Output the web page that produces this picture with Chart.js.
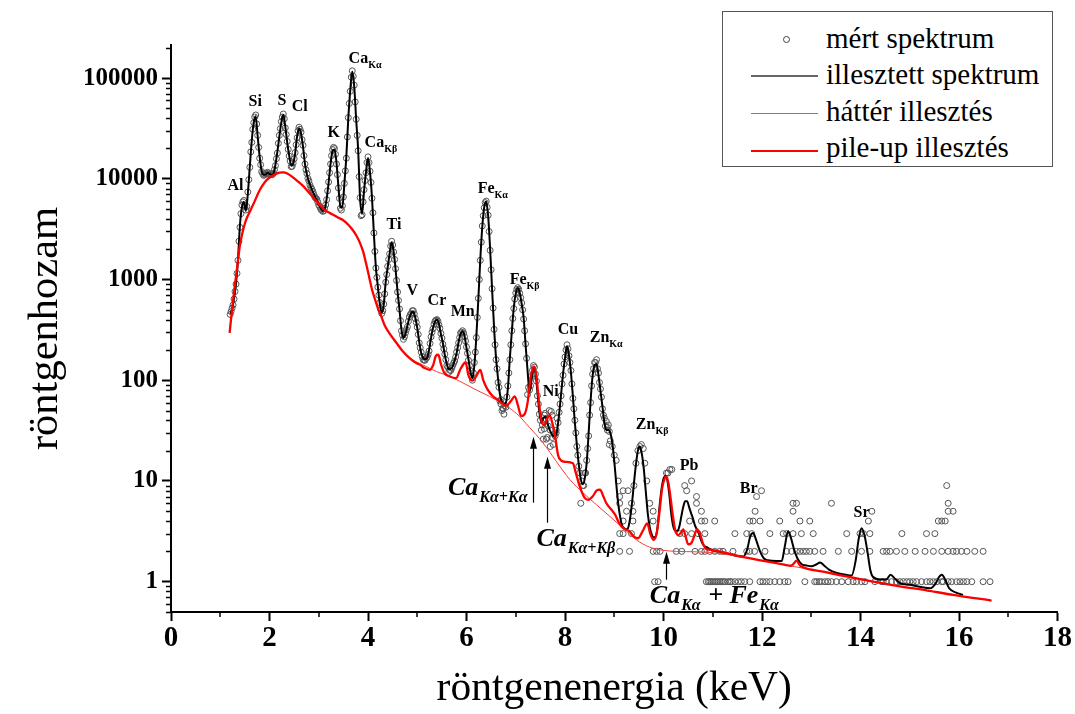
<!DOCTYPE html>
<html>
<head>
<meta charset="utf-8">
<script src="https://cdn.jsdelivr.net/npm/chart.js@4.4.0/dist/chart.umd.min.js"></script>
<style>
html,body{margin:0;padding:0;background:#fff;}
#wrap{position:relative;width:1075px;height:714px;overflow:hidden;}
#c{position:absolute;left:0;top:0;}
#legend{position:absolute;left:722px;top:11px;width:331px;height:156px;border:1px solid #555;box-sizing:border-box;background:#fff;
 font-family:"Liberation Serif","Times New Roman",serif;font-size:29px;color:#000;}
#legend .t{position:absolute;left:103px;line-height:36px;white-space:nowrap;}
#legend .ln{position:absolute;left:28px;width:67px;}
#legend .pt{position:absolute;left:60px;width:5px;height:5px;border:1px solid #444;border-radius:50%;}
</style>
</head>
<body>
<div id="wrap">
<canvas id="c" width="1075" height="714"></canvas>
<div id="legend">
  <div class="pt" style="top:24px"></div><div class="t" style="top:8px">mért spektrum</div>
  <div class="ln" style="top:63px;height:2px;background:#666"></div><div class="t" style="top:44px">illesztett spektrum</div>
  <div class="ln" style="top:101px;height:1px;background:#ff4a4a"></div><div class="t" style="top:81px">háttér illesztés</div>
  <div class="ln" style="top:138px;height:2px;background:#ff0000"></div><div class="t" style="top:117px">pile-up illesztés</div>
</div>
</div>
<script>
// ---------------- DATA ----------------
// dense channel grid of the spectrum (keV calibration)
const chanStart = 1.20, chanStep = 0.04;      // fitted line + measured (even channels)
const halfStart = 1.22;                        // measured (odd channels)

// fitted spectrum (black line), channels 1.20 ... 10.88 keV
const fitY = [
457,500,650,910,1580,3470,5250,5900,4800,7100,
13200,24000,36300,41700,26300,16600,12000,11000,11000,11500,
11200,11000,11200,13800,18600,26300,36300,43200,33100,22900,
17000,13500,14100,17800,26300,31600,28200,20900,14100,11000,
9330,8300,7400,6700,6170,5560,5130,4790,5010,6310,
9120,14100,19000,19500,14500,8300,5250,5250,8900,16600,
39800,75900,116000,83200,38500,19400,6300,4500,7590,11700,
16100,11700,6600,2820,1320,850,575,468,562,955,
1320,1820,2340,1900,1260,760,500,316,263,288,
347,417,468,479,417,331,240,186,166,162,
166,200,263,331,380,398,363,288,234,178,
145,129,129,138,158,186,240,288,305,275,
209,162,120,105,141,272,631,1580,3310,5250,
5960,4270,2000,794,331,166,105,72,60,58,
60,83,166,302,525,724,822,741,575,417,
224,125,76,100,135,120,76,48,38,42,
44,38,33,30,28,28,32,46,72,115,
166,217,178,120,69,38,23,14.5,10.5,9.3,
10.5,15,30,63,110,141,145,112,79,55,
38,32,32,30,24,15.8,9.5,6.0,4.4,3.6,
3.4,3.3,3.4,4.2,6.0,9.5,14.5,20,22,18.6,
13.2,7.9,4.8,3.5,2.95,2.75,2.8,3.5,5.6,8.3,
10.5,11.2,10.0,7.2,4.6,3.5,3.2,3.2,3.5,4.4,
5.5,6.3,6.3,5.5,4.8,4.2,3.6,3.3,3.0,2.6,
2.35,2.24,2.2
];
// fitted spectrum, high-energy part
const fitTailE = [10.95,11.10,11.30,11.50,11.62,11.70,11.76,11.82,11.88,11.96,12.04,12.12,12.30,12.40,12.46,12.53,12.58,12.65,12.72,12.80,12.90,13.00,13.10,13.18,13.26,13.36,13.52,13.70,13.82,13.90,13.96,14.02,14.08,14.14,14.20,14.25,14.40,14.52,14.61,14.70,14.80,15.00,15.20,15.42,15.52,15.60,15.65,15.72,15.80,15.94,16.08];
const fitTailY = [2.08,2.0,1.9,1.8,1.78,2.1,2.8,3.04,2.6,2.0,1.7,1.63,1.6,1.6,2.2,3.16,2.8,2.1,1.7,1.5,1.45,1.42,1.48,1.55,1.45,1.32,1.22,1.17,1.15,1.6,2.6,3.4,2.9,2.0,1.3,1.12,1.05,1.05,1.17,1.07,0.97,0.93,0.89,0.86,0.95,1.12,1.17,1.05,0.86,0.78,0.74];

// measured spectrum (circles), even channels 1.20 ... 8.92 keV
const measY = [
450,520,640,900,1550,3300,5500,6100,4900,7400,
13000,23000,36000,43000,27000,16000,11800,10800,11300,11600,
11000,11100,11400,13500,18000,27000,37000,44000,32000,23500,
16800,13200,14300,18200,25500,32500,29000,21500,14000,11300,
9500,8200,7500,6600,6300,5500,5000,4750,5100,6200,
9300,14000,19500,20000,14000,8100,5100,5400,9000,16000,
40500,74000,118000,85000,39000,19000,6500,4400,7800,11500,
16500,11900,6400,2900,1300,840,590,460,570,940,
1350,1800,2400,1880,1280,750,510,310,255,295,
340,425,460,490,410,336,235,190,160,158,
170,195,270,325,385,400,355,292,228,182,
140,120,125,140,155,190,235,295,310,270,
214,158,124,100,150,265,650,1550,3400,5150,
6000,4350,1950,810,320,160,95,62,50,46,
54,88,160,310,515,735,830,730,585,405,
230,72,80,110,140,115,70,46,32,26,
47,27,50,49,23,28,42,48,70,112,
170,225,175,125,66,40,22,14,6,9,
12,16,28,60,115,150,160,118,82,52,
42,39,36,25
];
// measured spectrum, odd channels 1.22 ... 8.90 keV
const measHalfY = [
480,560,760,1150,2400,4500,5900,5300,5300,9800,
18500,31000,41000,35000,20500,13800,11300,11000,11200,11400,
11000,11000,12300,15800,22500,31500,41000,39500,27500,19600,
15000,13300,15800,21800,30000,31000,24500,17000,12300,10100,
8700,7900,7000,6400,5900,5300,4900,4800,5500,7600,
11500,17000,20500,17500,11000,6400,4900,6600,12000,26000,
56000,102000,104000,58000,27000,10500,4300,5900,9600,14500,
14500,9200,4600,1900,1050,700,500,490,720,1120,
1580,2150,2200,1580,980,620,390,280,270,318,
385,450,490,455,375,285,210,172,158,165,
180,232,300,360,395,385,328,262,205,160,
135,126,132,148,170,210,265,300,295,245,
185,140,110,118,190,420,1000,2350,4300,5800,
5200,3000,1250,520,225,130,85,58,52,56,
68,118,225,410,640,800,800,660,500,310,
165,85,88,125,135,98,58,40,36,45,
41,35,32,27,29,30,38,58,92,145,
200,205,150,92,52,30,18,12,10,9,
12,21,45,88,130,150,130,95,68,45,
35,34,31
];
// extra measured channels (scattered points)
const extraE = [6.70,6.74,7.58,7.62,7.70,7.74,7.82,8.86,8.90,8.96,9.00,9.04,9.08,9.40,9.44,9.48,9.52,9.55,9.59,9.62,9.66,10.06,10.09,10.13,10.17];
const extraY = [64,53,33,26,22,45,32,32,23,22,18,16,10,9,15,20,22,23,21,15,10,12,12,13,13];
// low-count channels: energies of channels holding 1, 2, 3 ... counts
const count1E = [9.82,9.89,10.87,10.91,10.94,10.97,11.01,11.04,11.08,11.11,11.15,11.18,11.22,11.25,11.31,11.35,11.38,11.45,11.52,11.58,11.65,11.75,11.96,12.02,12.09,12.16,12.26,12.36,12.46,12.53,12.87,13.07,13.11,13.16,13.21,13.28,13.34,13.41,13.51,13.62,13.75,13.85,13.92,14.02,14.09,14.29,14.43,14.46,14.53,14.63,14.73,14.80,14.87,14.94,15.00,15.07,15.14,15.24,15.34,15.41,15.48,15.55,15.65,15.68,15.78,15.85,15.95,16.02,16.09,16.16,16.26,16.49,16.63];
const count2E = [9.11,9.31,9.79,9.86,9.93,10.26,10.37,10.64,10.77,10.84,10.94,11.04,11.14,11.21,11.41,11.69,11.75,11.85,12.06,12.50,12.60,12.70,12.77,12.84,12.90,12.97,13.07,13.24,13.55,13.82,14.02,14.19,14.46,14.53,14.60,14.73,14.90,15.11,15.31,15.48,15.65,15.78,15.88,15.95,16.05,16.16,16.32,16.49];
const count3E = [9.11,9.18,9.35,10.33,10.43,10.57,10.70,10.84,11.45,11.69,11.79,12.16,12.43,12.50,12.63,12.80,13.04,13.72,13.99,14.06,14.19,14.84,15.34,15.51];
const count4E = [9.18,9.38,9.79,10.53,10.77,10.84,11.04,11.75,11.82,11.96,12.36,12.77,12.97,14.16,15.58,15.65,15.72];
const count5E = [9.25,9.38,9.79,10.77,11.86,12.63,14.23,15.78,15.88];
const count6E = [9.11,9.35,9.72,10.67,12.63,12.70,13.41,15.78];
const count7E = [9.11,10.67,11.89];
const count8E = [9.18,9.28,10.47,11.99];
const count9E = [10.43,15.75];
const count10E = [10.57];

// background fit (thin red)
const bgE = [1.19,1.25,1.30,1.35,1.40,1.45,1.50,1.55,1.60,1.70,1.80,1.90,2.00,2.10,2.20,2.28,2.36,2.47,2.58,2.68,2.78,2.88,2.98,3.08,3.18,3.29,3.40,3.49,3.60,3.69,3.76,3.83,3.90,3.96,4.02,4.08,4.14,4.20,4.27,4.34,4.44,4.58,4.71,4.91,5.18,5.39,5.66,5.93,6.20,6.47,6.74,7.01,7.28,7.55,7.83,8.10,8.37,8.64,8.91,9.18,9.45,9.72,9.99,10.26,10.67,10.94,11.14,11.55,12.09,12.63,13.18,13.72,14.26,14.80,15.34,15.88,16.66];
const bgY = [295,560,900,1400,2200,2900,3600,4200,4700,6000,7700,9200,10300,11000,11500,11600,11300,10400,9400,8500,7500,6600,5800,5100,4700,4400,4100,3900,3500,3100,2750,2350,1900,1450,1080,800,640,520,430,350,290,234,193,159,137,122,109,94,80,69,58,47,34,24,15.5,10.3,7.6,5.8,4.45,3.4,2.6,2.2,2.05,2.0,1.98,1.95,1.9,1.78,1.59,1.42,1.27,1.13,1.0,0.9,0.82,0.74,0.65];

// pile-up fit (thick red)
const pileE = [1.19,1.25,1.30,1.35,1.40,1.45,1.50,1.55,1.60,1.70,1.80,1.90,2.00,2.10,2.20,2.28,2.36,2.47,2.58,2.68,2.78,2.88,2.98,3.08,3.18,3.29,3.40,3.49,3.60,3.69,3.76,3.83,3.90,3.96,4.02,4.08,4.14,4.20,4.27,4.34,4.44,
4.58,4.71,4.85,4.98,5.05,5.15,5.25,5.32,5.38,5.43,5.48,5.55,5.66,5.79,5.88,5.98,6.04,6.12,6.20,6.28,6.34,6.42,6.54,6.64,6.74,6.81,6.90,6.98,7.05,7.11,7.18,7.24,7.30,7.37,7.42,7.47,7.53,7.58,7.64,7.69,7.74,7.79,7.86,7.92,8.00,8.16,8.22,8.30,8.40,8.47,8.56,8.64,8.71,8.78,8.84,8.94,9.02,9.10,9.18,9.31,9.40,9.48,9.58,9.67,9.73,9.80,9.86,9.92,9.97,10.02,10.06,10.10,10.14,10.19,10.24,10.30,10.36,10.40,10.45,10.50,10.56,10.62,10.68,10.74,10.80,10.87,10.94,11.14,11.55,12.09,12.45,12.58,12.64,12.70,12.77,12.85,13.18,13.72,14.26,14.80,15.34,15.88,16.66];
const pileY = [295,560,900,1400,2200,2900,3600,4200,4700,6000,7700,9200,10300,11000,11500,11600,11300,10400,9400,8500,7500,6600,5800,5100,4700,4400,4100,3900,3500,3100,2750,2350,1900,1450,1080,800,640,520,430,350,290,
234,193,165,148,143,132,127,140,175,179,145,118,109,105,130,150,112,99,110,127,100,82,69,64,58,56,62,69,55,44,46,60,105,137,110,62,38,36,42,45,38,30,18,16,15.5,15,12,8.8,6.8,6.5,7.0,8.0,8.2,7.0,6.0,5.2,4.6,3.8,3.4,3.16,2.8,2.7,3.2,3.8,3.0,2.6,3.0,5.0,8.3,10.5,11.1,9.5,7.0,4.5,3.2,2.9,3.1,3.3,2.8,2.35,2.4,2.8,3.3,3.0,2.4,2.1,2.08,2.0,1.78,1.59,1.48,1.44,1.5,1.62,1.45,1.38,1.27,1.13,1.0,0.9,0.82,0.74,0.65];

// axis tick labels
const xTickValues = [0,2,4,6,8,10,12,14,16,18];
const yTickValues = [1,10,100,1000,10000,100000];

// peak labels: [name, subscript, energy (keV), counts] (left / baseline anchor)
const peakLabels = [
 ['Al','',1.148,7780],['Si','',1.575,53100],['S','',2.164,54300],['Cl','',2.45,47300],['K','',3.18,26100],
 ['Ca','K\u03b1',3.606,142000],['Ca','K\u03b2',3.931,20800],['Ti','',4.378,3190],['V','',4.78,706],
 ['Cr','',5.21,562],['Mn','',5.678,437],['Fe','K\u03b1',6.226,7270],['Fe','K\u03b2',6.877,908],
 ['Ni','',7.548,70.2],['Cu','',7.853,290],['Zn','K\u03b1',8.503,241],['Zn','K\u03b2',9.438,33.0],
 ['Pb','',10.33,12.9],['Br','',11.55,7.64],['Sr','',13.86,4.42]
];
// pile-up arrows: [energy, from counts, to counts]
const arrows = [[7.351,6.09,27.5],[7.643,3.85,17.4],[10.06,1.047,1.985]];
// pile-up captions
const pileLabels = [
 {parts:[['Ca',0],['K\u03b1+K\u03b1',1]], e:5.624, v:7.19},
 {parts:[['Ca',0],['K\u03b1+K\u03b2',1]], e:7.42, v:2.24},
 {parts:[['Ca',0],['K\u03b1',1],[' + Fe',0],['K\u03b1',1]], e:9.722, v:0.619}
];

// ---------------- BUILD POINTS ----------------
const r2 = v => Math.round(v * 100) / 100;
const fitPts = fitY.map((v, i) => ({x: r2(chanStart + chanStep * i), y: v}))
  .concat(fitTailE.map((e, i) => ({x: e, y: fitTailY[i]})));
const measPts = measY.map((v, i) => ({x: r2(chanStart + chanStep * i), y: v}))
  .concat(measHalfY.map((v, i) => ({x: r2(halfStart + chanStep * i), y: v})))
  .concat(extraE.map((e, i) => ({x: e, y: extraY[i]})));
[count1E,count2E,count3E,count4E,count5E,count6E,count7E,count8E,count9E,count10E].forEach((arr, k) => {
  arr.forEach(e => measPts.push({x: e, y: k + 1}));
});
const bgPts = bgE.map((e, i) => ({x: e, y: bgY[i]}));
const pilePts = pileE.map((e, i) => ({x: e, y: pileY[i]}));

const SERIF = '"Liberation Serif","Times New Roman",serif';

// ---------------- PLUGINS ----------------
const minorTicks = {
  id: 'minorTicks',
  afterDraw(chart) {
    const {ctx, scales: {x, y}} = chart;
    ctx.save();
    ctx.strokeStyle = '#000';
    ctx.lineWidth = 1.5;
    ctx.beginPath();
    for (let v = 1; v < 18; v += 2) {
      const px = Math.round(x.getPixelForValue(v));
      ctx.moveTo(px, y.bottom); ctx.lineTo(px, y.bottom + 5);
    }
    for (let d = 0.1; d <= 100000; d *= 10) {
      for (let m = 2; m <= 9; m++) {
        const v = m * d;
        if (v < y.min || v > y.max) continue;
        const py = Math.round(y.getPixelForValue(v)) + 0.5;
        ctx.moveTo(x.left, py); ctx.lineTo(x.left - 5, py);
      }
    }
    ctx.stroke();
    ctx.restore();
  }
};

const annotations = {
  id: 'annotations',
  afterDraw(chart) {
    const {ctx, scales: {x, y}} = chart;
    ctx.save();
    ctx.fillStyle = '#000';
    ctx.textBaseline = 'alphabetic';
    ctx.textAlign = 'left';
    peakLabels.forEach(([name, sub, e, v]) => {
      const px = x.getPixelForValue(e), py = y.getPixelForValue(v);
      ctx.font = 'bold 16px ' + SERIF;
      ctx.fillText(name, px, py);
      if (sub) {
        const w = ctx.measureText(name).width;
        ctx.font = 'bold 10px ' + SERIF;
        ctx.fillText(sub, px + w, py + 5);
      }
    });
    ctx.strokeStyle = '#000';
    ctx.lineWidth = 1.2;
    arrows.forEach(([e, v0, v1]) => {
      const px = Math.round(x.getPixelForValue(e)) + 0.5;
      const p0 = y.getPixelForValue(v0), p1 = y.getPixelForValue(v1);
      ctx.beginPath(); ctx.moveTo(px, p0); ctx.lineTo(px, p1 + 8); ctx.stroke();
      ctx.beginPath(); ctx.moveTo(px, p1); ctx.lineTo(px - 3.5, p1 + 12); ctx.lineTo(px + 3.5, p1 + 12); ctx.closePath(); ctx.fill();
    });
    pileLabels.forEach(lab => {
      let px = x.getPixelForValue(lab.e);
      const py = y.getPixelForValue(lab.v);
      lab.parts.forEach(([t, isSub]) => {
        ctx.font = isSub ? 'bold italic 16px ' + SERIF : 'bold italic 26px ' + SERIF;
        ctx.fillText(t, px, isSub ? py + 7 : py);
        px += ctx.measureText(t).width + 1;
      });
    });
    ctx.restore();
  }
};

// ---------------- CHART ----------------
new Chart(document.getElementById('c'), {
  type: 'scatter',
  data: {
    datasets: [
      {label: 'pile-up illesztés', data: pilePts, showLine: true, borderColor: '#ff0000', borderWidth: 2.3,
       pointRadius: 0, cubicInterpolationMode: 'monotone', order: 0},
      {label: 'háttér illesztés', data: bgPts, showLine: true, borderColor: '#ff3a3a', borderWidth: 1,
       pointRadius: 0, cubicInterpolationMode: 'monotone', order: 1},
      {label: 'illesztett spektrum', data: fitPts, showLine: true, borderColor: '#000', borderWidth: 2,
       pointRadius: 0, cubicInterpolationMode: 'monotone', order: 2},
      {label: 'mért spektrum', data: measPts, showLine: false, pointRadius: 3, pointBorderWidth: 1,
       pointBorderColor: '#555', pointBackgroundColor: 'rgba(255,255,255,0)', order: 3}
    ]
  },
  options: {
    responsive: false,
    animation: false,
    devicePixelRatio: 1,
    layout: {padding: {left: 0, right: 17.5, top: 45, bottom: 0}},
    plugins: {legend: {display: false}, tooltip: {enabled: false}},
    scales: {
      x: {
        type: 'linear', min: 0, max: 18,
        afterBuildTicks: s => { s.ticks = xTickValues.map(v => ({value: v})); },
        afterFit: s => { s.height = 102; },
        ticks: {color: '#000', font: {family: SERIF, size: 29, weight: 'bold'}, padding: 0, maxRotation: 0},
        grid: {display: true, drawOnChartArea: false, drawTicks: true, tickLength: 9, tickWidth: 2, tickColor: '#000'},
        border: {display: true, color: '#000', width: 2},
        title: {display: true, text: 'röntgenenergia (keV)', color: '#000', font: {family: SERIF, size: 41.5}, padding: {top: 0, bottom: 0}}
      },
      y: {
        type: 'logarithmic', min: 0.5, max: 213000,
        afterBuildTicks: s => { s.ticks = yTickValues.map(v => ({value: v})); },
        afterFit: s => { s.width = 171; },
        ticks: {color: '#000', font: {family: SERIF, size: 25, weight: 'bold'}, padding: 4, callback: v => String(v)},
        grid: {display: true, drawOnChartArea: false, drawTicks: true, tickLength: 9, tickWidth: 2, tickColor: '#000'},
        border: {display: true, color: '#000', width: 2},
        title: {display: true, text: 'röntgenhozam', color: '#000', font: {family: SERIF, size: 42.5}, padding: {top: 20.5, bottom: 0}}
      }
    }
  },
  plugins: [minorTicks, annotations]
});
</script>
</body>
</html>
